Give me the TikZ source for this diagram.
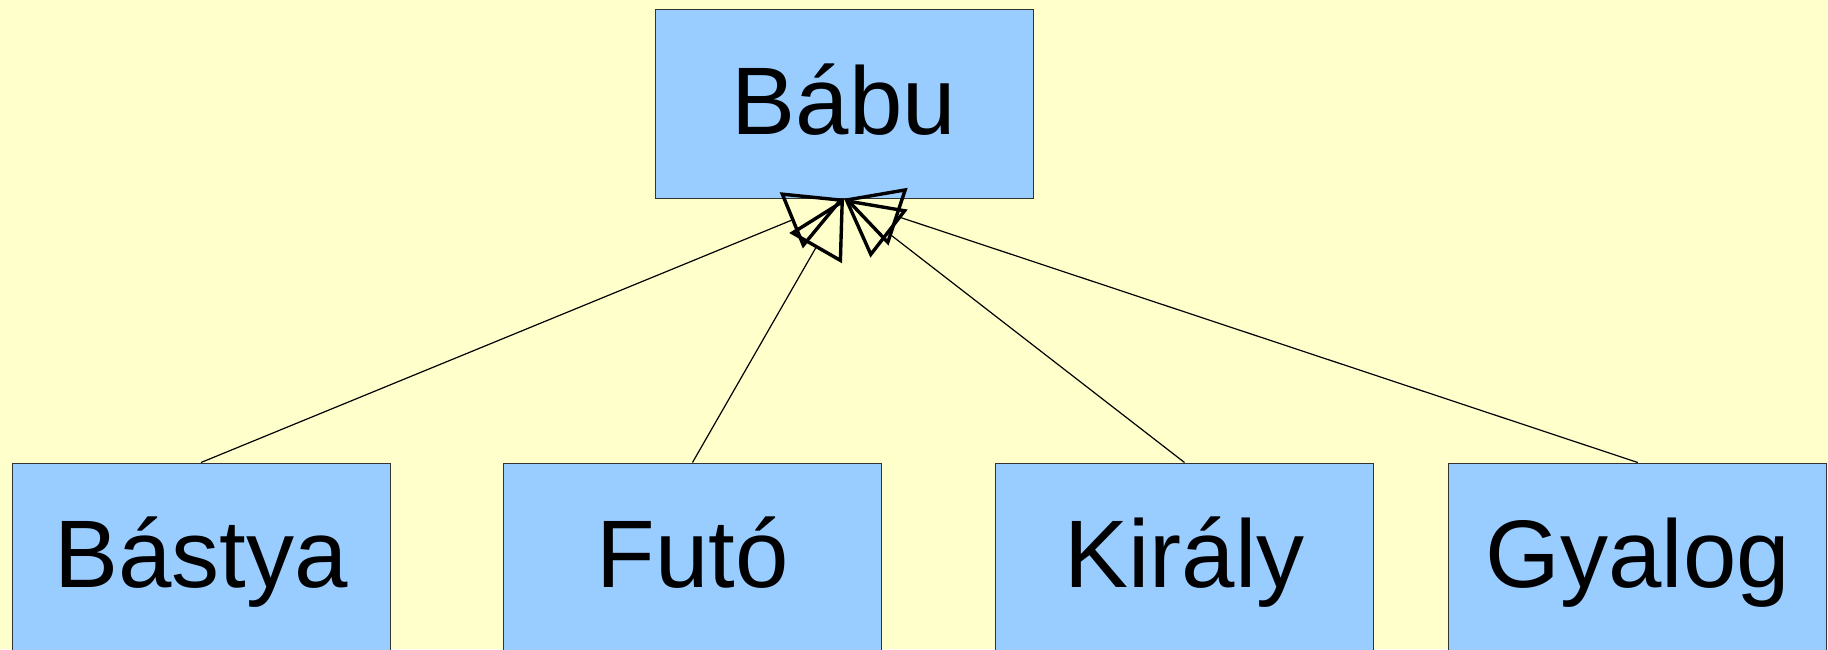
\documentclass[tikz,border=0pt]{standalone}
\usepackage{fontspec}
\setmainfont{Liberation Sans}
\usetikzlibrary{arrows.meta}
\definecolor{paper}{HTML}{FFFFCC}
\definecolor{boxblue}{HTML}{99CCFF}
\begin{document}
\begin{tikzpicture}[x=0.5pt,y=-0.5pt,
  cls/.style={draw=black!80, line width=0.5pt, fill=boxblue,
    minimum width=189pt, minimum height=94.5pt, inner sep=0pt,
    text height=30.4pt, text depth=0pt,
    font=\fontsize{48}{56}\selectfont},
  inherit/.style={line width=0.6pt,
    -{Triangle[open, length=28.5pt, width=30pt, line width=1.7pt]}}]
\useasboundingbox (0,0) rectangle (1828,649);
\clip (0,0) rectangle (1828,649);
\fill[paper] (0,0) rectangle (1828,649);

% class boxes
\node[cls] (babu)   at (844,103.7)   {Bábu};
\node[cls] (bastya) at (201,557.5)   {Bástya};
\node[cls] (futo)   at (692.5,557.5) {Futó};
\node[cls] (kiraly) at (1184.5,557.5){Király};
\node[cls] (gyalog) at (1637.8,557.5){Gyalog};

% inheritance arrows
\draw[inherit] (bastya.north) -- (babu.south);
\draw[inherit] (futo.north)   -- (babu.south);
\draw[inherit] (kiraly.north) -- (babu.south);
\draw[inherit] (gyalog.north) -- (babu.south);
\end{tikzpicture}
\end{document}
